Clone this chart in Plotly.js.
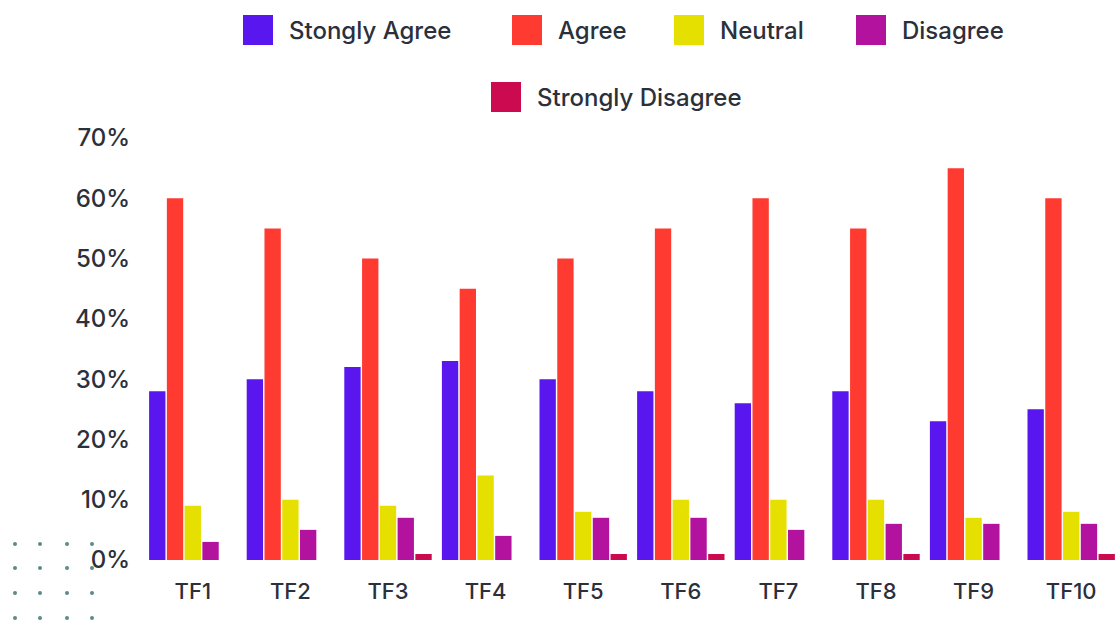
<!DOCTYPE html>
<html>
<head>
<meta charset="utf-8">
<script src="https://cdn.plot.ly/plotly-3.0.1.min.js"></script>
<style>
html,body{margin:0;padding:0;background:#ffffff;}
#chart{width:1120px;height:624px;}
</style>
</head>
<body>
<div id="chart"></div>
<script>
var categories = ["TF1","TF2","TF3","TF4","TF5","TF6","TF7","TF8","TF9","TF10"];
var seriesNames = ["Stongly Agree","Agree","Neutral","Disagree","Strongly Disagree"];
var seriesColors = ["#5a16ee","#ff3a30","#e6e000","#b3129f","#cc0a50"];
var stronglyAgree    = [0.28,0.30,0.32,0.33,0.30,0.28,0.26,0.28,0.23,0.25];
var agree            = [0.60,0.55,0.50,0.45,0.50,0.55,0.60,0.55,0.65,0.60];
var neutral          = [0.09,0.10,0.09,0.14,0.08,0.10,0.10,0.10,0.07,0.08];
var disagree         = [0.03,0.05,0.07,0.04,0.07,0.07,0.05,0.06,0.06,0.06];
var stronglyDisagree = [0.00,0.00,0.01,0.00,0.01,0.01,0.00,0.01,0.00,0.01];
var yTickVals = [0,0.1,0.2,0.3,0.4,0.5,0.6,0.7];
var yTickText = ["0%","10%","20%","30%","40%","50%","60%","70%"];

var seriesValues = [stronglyAgree, agree, neutral, disagree, stronglyDisagree];

var FONT = "Inter, 'Noto Sans', sans-serif";
var TEXTC = "#2b303b";

var traces = seriesValues.map(function(v,i){
  return {type:"bar", x:categories, y:v, name:seriesNames[i],
          marker:{color:seriesColors[i]}, showlegend:false,
          hovertemplate:"%{x}: %{y:.0%}<extra>"+seriesNames[i]+"</extra>"};
});

// layout geometry (pixels)
var W=1120,H=624, L=144, R=0, T=138, B=64;
var pw=W-L-R, ph=H-T-B;
function px(x){return (x-L)/pw;}
function py(y){return (H-B-y)/ph;}

var shapes=[], annotations=[];
// custom legend (built from series names/colors)
var legendRows = [
  {items:[0,1,2,3], sw:[243,512,674,856], yc:30},
  {items:[4], sw:[491], yc:97}
];
legendRows.forEach(function(row){
  row.items.forEach(function(si,k){
    var x0=row.sw[k];
    shapes.push({type:"rect",xref:"paper",yref:"paper",
      x0:px(x0),x1:px(x0+30),y0:py(row.yc+15),y1:py(row.yc-15),
      fillcolor:seriesColors[si],line:{width:0}});
    annotations.push({xref:"paper",yref:"paper",x:px(x0+44),y:py(row.yc),
      xanchor:"left",yanchor:"middle",showarrow:false,text:seriesNames[si],
      font:{family:FONT,size:24,weight:500,color:TEXTC}});
  });
});
// decorative dot grid bottom-left
[15,40,67,92].forEach(function(dx){
  [544,568,593,618].forEach(function(dy){
    shapes.push({type:"circle",xref:"paper",yref:"paper",
      x0:px(dx-2),x1:px(dx+2),y0:py(dy+2),y1:py(dy-2),
      fillcolor:"#5f8a88",line:{width:0},layer:"below"});
  });
});

var layout = {
  width:W,height:H,
  margin:{l:L,r:R,t:T,b:B,pad:0},
  paper_bgcolor:"#ffffff",plot_bgcolor:"#ffffff",
  barmode:"group",bargap:0.09,bargroupgap:0.08,
  showlegend:false,
  xaxis:{type:"category",range:[-0.5,9.5],showgrid:false,zeroline:false,showline:false,
         ticks:"outside",ticklen:12,tickcolor:"rgba(0,0,0,0)",
         tickfont:{family:FONT,size:22,weight:500,color:TEXTC},fixedrange:true},
  yaxis:{range:[0,0.7],tickvals:yTickVals,ticktext:yTickText,showgrid:false,zeroline:false,
         showline:false,ticks:"outside",ticklen:8,tickcolor:"rgba(0,0,0,0)",
         tickfont:{family:FONT,size:24,weight:500,color:TEXTC},fixedrange:true},
  shapes:shapes,annotations:annotations,
  font:{family:FONT}
};
Plotly.newPlot("chart",traces,layout,{displayModeBar:false,staticPlot:true});
</script>
</body>
</html>
